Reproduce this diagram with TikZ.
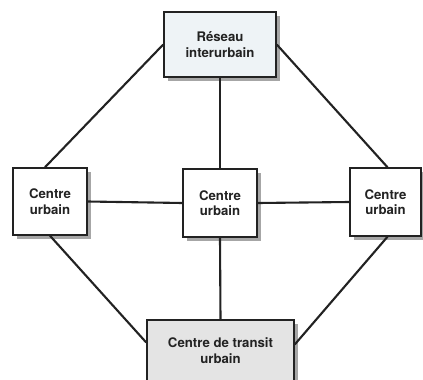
\documentclass[tikz,border=0pt]{standalone}
\usepackage{fontspec}
\setmainfont{TeX Gyre Heros}
\usetikzlibrary{calc,shadows}
\definecolor{topfill}{HTML}{EEF3F6}
\definecolor{botfill}{HTML}{E4E4E4}
\definecolor{ink}{HTML}{222222}
\tikzset{
  box/.style={draw=ink, line width=1.5pt, fill=white, align=center,
    font=\fontsize{13.2}{15.5}\selectfont\bfseries, text=ink, inner sep=0pt,
    drop shadow={shadow xshift=4pt, shadow yshift=-4pt, fill=gray!70, opacity=1}},
  link/.style={draw=ink, line width=2.1pt}
}
\begin{document}
\begin{tikzpicture}[x=1pt,y=-1pt]
\clip (0,0) rectangle (423,380);
\fill[white] (0,0) rectangle (423,380);
\node[box, fill=topfill, minimum width=112pt, minimum height=65pt] (top) at (220,44.5) {Réseau\\interurbain};
\node[box, minimum width=74pt, minimum height=67pt] (left) at (50,201.5) {Centre\\urbain};
\node[box, minimum width=74pt, minimum height=68pt] (mid) at (220,203) {Centre\\urbain};
\node[box, minimum width=71pt, minimum height=68pt] (right) at (385.5,202) {Centre\\urbain};
\node[box, fill=botfill, minimum width=147pt, minimum height=61pt] (bot) at (220.5,350.5) {Centre de transit\\urbain};
\draw[link] ($(left.north)+(-5,0)$) -- (top.west);
\draw[link] (top.east) -- ($(right.north)+(2,0)$);
\draw[link] (top.south) -- (mid.north);
\draw[link] (left.east) -- (mid.west);
\draw[link] (mid.east) -- (right.west);
\draw[link] (mid.south) -- (bot.north);
\draw[link] (left.south) -- ($(bot.west)+(0,-8)$);
\draw[link] ($(right.south)+(2,0)$) -- ($(bot.east)+(0,-6)$);
\end{tikzpicture}
\end{document}
